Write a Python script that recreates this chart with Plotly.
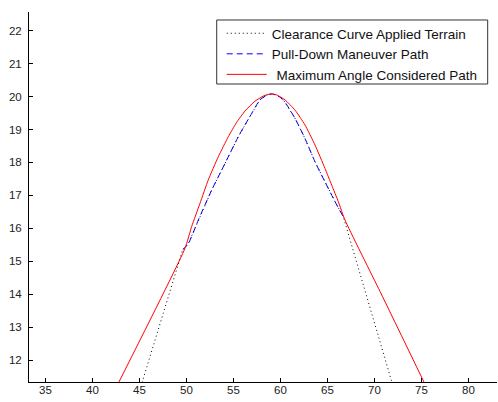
import plotly.graph_objects as go

# Red: Maximum Angle Considered Path
red_x = [42.6, 49.84, 50.55, 51.44, 52.32, 53.38, 54.45, 55.3, 56.22, 57.29, 58.35, 59.06,
         59.6, 60.48, 61.54, 62.6, 63.67, 64.73, 65.45, 66.15, 66.86, 70.59, 75.45]
red_y = [11.21, 15.39, 16.05, 16.76, 17.47, 18.17, 18.78, 19.2, 19.56, 19.86, 20.04, 20.08,
         20.05, 19.9, 19.59, 19.14, 18.53, 17.82, 17.31, 16.81, 16.25, 14.08, 11.22]

# Blue: Pull-Down Maneuver Path
blue_x = [49.6, 50.19, 51.26, 52.68, 54.1, 55.51, 56.94, 57.82, 58.6, 59.06, 59.6, 60.3,
          61.54, 62.6, 63.67, 64.73, 65.8, 66.68]
blue_y = [15.35, 15.53, 16.25, 17.16, 17.97, 18.78, 19.49, 19.9, 20.05, 20.08, 20.04, 19.9,
          19.34, 18.73, 18.02, 17.41, 16.81, 16.35]

# Black dotted: Clearance Curve Applied Terrain
dot_x = [45.15] + blue_x + [71.98]
dot_y = [11.2] + blue_y + [11.2]

x_ticks = [35, 40, 45, 50, 55, 60, 65, 70, 75, 80]
y_ticks = [12, 13, 14, 15, 16, 17, 18, 19, 20, 21, 22]

fig = go.Figure()
fig.add_trace(go.Scatter(x=dot_x, y=dot_y, mode="lines", name="Clearance Curve Applied Terrain",
                         line=dict(color="black", width=1, dash="1px,3px")))
fig.add_trace(go.Scatter(x=blue_x, y=blue_y, mode="lines", name="Pull-Down Maneuver Path",
                         line=dict(color="#0000ff", width=1, dash="6px,4px", shape="spline", smoothing=0.6)))
fig.add_trace(go.Scatter(x=red_x, y=red_y, mode="lines", name="\u00a0\u200aMaximum Angle Considered Path",
                         line=dict(color="#ff0000", width=1, shape="spline", smoothing=0.5)))

# legend frame
fig.add_shape(type="rect", xref="paper", yref="paper", x0=0.4011, x1=0.9801, y0=0.8054, y1=0.9784,
              line=dict(color="#333", width=1), fillcolor="white", layer="below")

axis_common = dict(showgrid=False, zeroline=False, showline=True, linecolor="black", linewidth=1,
                   ticks="inside", ticklen=4, tickcolor="black", tickwidth=1, automargin=False,
                   tickfont=dict(family="Liberation Sans, Arial", size=11.5, color="#222"))
fig.update_layout(
    width=498, height=402,
    margin=dict(l=29, r=1, t=12, b=20),
    paper_bgcolor="white", plot_bgcolor="white",
    showlegend=True,
    legend=dict(x=0.4118, y=0.9838, xanchor="left", yanchor="top",
                bgcolor="rgba(0,0,0,0)", borderwidth=0,
                font=dict(family="Liberation Sans, Arial", size=13.5, color="#111"),
                itemwidth=40, tracegroupgap=0),
    xaxis=dict(range=[33.25, 83.03], tickvals=x_ticks, ticklabelstandoff=-3, **axis_common),
    yaxis=dict(range=[11.332, 22.568], tickvals=y_ticks, ticklabelstandoff=4, **axis_common),
)
fig.write_html("out.html", config={"displayModeBar": False},
               post_script="document.body.style.margin='0px';document.body.style.padding='0px';")
